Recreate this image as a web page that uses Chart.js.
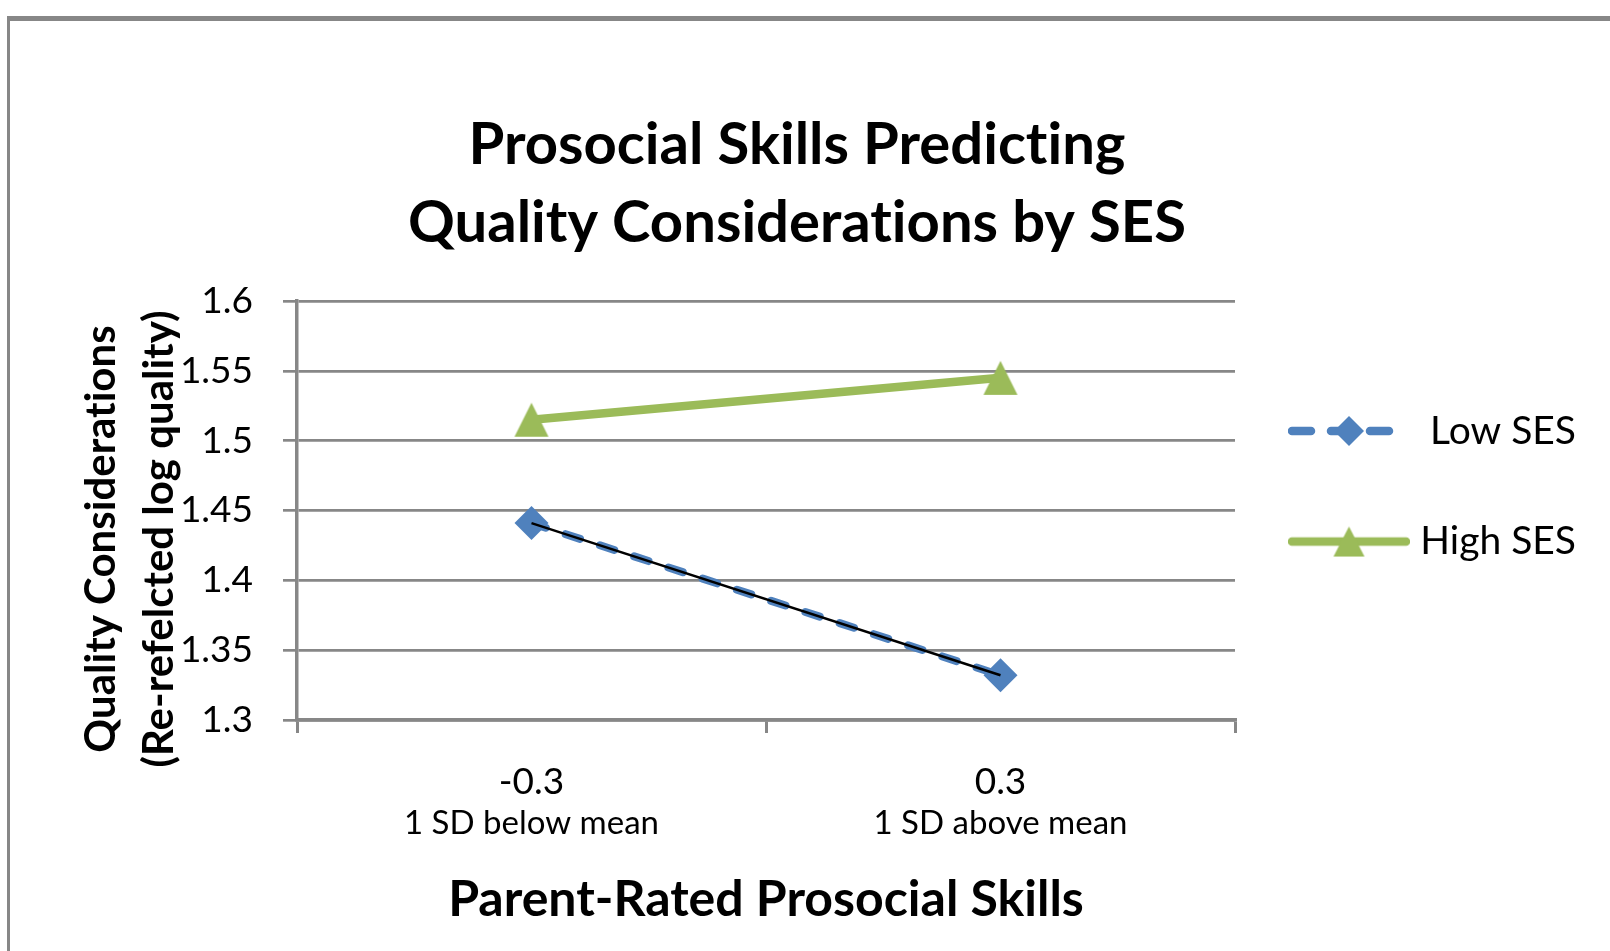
<!DOCTYPE html>
<html>
<head>
<meta charset="utf-8">
<script src="https://cdn.jsdelivr.net/npm/chart.js@4"></script>
<style>
  html, body { margin: 0; padding: 0; background: #fff; overflow: hidden; }
  .frame { position: absolute; left: 7px; top: 16px; width: 1700px; height: 1000px;
           border-top: 5px solid #878787; border-left: 3px solid #878787; }
  #myChart { position: absolute; left: 0; top: 0; }
</style>
</head>
<body>
<div class="frame"></div>
<canvas id="myChart" width="1610" height="951"></canvas>
<script>
// Data
const xValues = ['-0.3', '0.3'];
const xNotes = ['1 SD below mean', '1 SD above mean'];
const lowSes = [1.441, 1.332];
const highSes = [1.515, 1.545];
const yTitleLines = ['Quality Considerations', '(Re-refelcted log quality)'];

// Colours
const blue = '#4F81BD';
const green = '#9BBB59';
const gridColor = '#878787';

Chart.defaults.font.family = 'Lato';
Chart.defaults.color = '#000';

// Triangle marker like Excel (same width and height)
function makeTriangle(w, h, color) {
    const c = document.createElement('canvas');
    c.width = w + 2;
    c.height = h + 2;
    const g = c.getContext('2d');
    g.fillStyle = color;
    g.beginPath();
    g.moveTo(c.width / 2, 1);
    g.lineTo(w + 1, h + 1);
    g.lineTo(1, h + 1);
    g.closePath();
    g.fill();
    return c;
}

// Legend symbol: a short line with the marker in the middle
function makeLegendIcon(color, dash, marker) {
    const c = document.createElement('canvas');
    c.width = 122;
    c.height = 40;
    const g = c.getContext('2d');
    g.strokeStyle = color;
    g.lineWidth = 8.5;
    g.lineCap = 'round';
    g.setLineDash(dash);
    g.beginPath();
    g.moveTo(4, 20);
    g.lineTo(118, 20);
    g.stroke();
    g.setLineDash([]);
    g.fillStyle = color;
    if (marker === 'diamond') {
        g.beginPath();
        g.moveTo(46, 20);
        g.lineTo(61, 5);
        g.lineTo(76, 20);
        g.lineTo(61, 35);
        g.closePath();
        g.fill();
    } else {
        g.drawImage(makeTriangle(31, 30, color), 61 - 16.5, 20 - 16);
    }
    return c;
}

const triangleImg = makeTriangle(34, 34, green);
const legendIcons = {
    1: makeLegendIcon(blue, [19, 20], 'diamond'),
    2: makeLegendIcon(green, [], 'triangle')
};

// No "ti" ligatures (the original font has none)
const noLigatures = {
    id: 'noLigatures',
    beforeDraw(chart) {
        chart.ctx.textRendering = 'optimizeSpeed';
    }
};

// Vertical axis title (two lines, rotated)
const yTitlePlugin = {
    id: 'yTitle',
    afterDraw(chart) {
        const ctx = chart.ctx;
        const xs = [101, 159];
        ctx.save();
        ctx.font = 'bold 42px Lato';
        ctx.fillStyle = '#000';
        ctx.textAlign = 'center';
        ctx.textBaseline = 'middle';
        yTitleLines.forEach((line, i) => {
            ctx.save();
            ctx.translate(xs[i], 539);
            ctx.rotate(-Math.PI / 2);
            ctx.fillText(line, 0, 0);
            ctx.restore();
        });
        ctx.restore();
    }
};

const ctx = document.getElementById('myChart').getContext('2d');

const chart = new Chart(ctx, {
    type: 'line',
    data: {
        labels: xValues,
        datasets: [{
                label: 'Low SES trend',
                data: lowSes,
                borderColor: '#000',
                borderWidth: 2.5,
                pointRadius: 0,
                order: 0
            }, {
                label: 'Low SES',
                data: lowSes,
                borderColor: blue,
                borderWidth: 8,
                borderDash: [15, 21],
                borderCapStyle: 'round',
                pointStyle: 'rectRot',
                pointRadius: 17,
                pointBackgroundColor: blue,
                pointBorderWidth: 0,
                order: 1
            }, {
                label: 'High SES',
                data: highSes,
                borderColor: green,
                borderWidth: 8.5,
                pointStyle: triangleImg,
                pointRadius: 17,
                order: 2
            }]
    },
    options: {
        responsive: false,
        animation: false,
        events: [],
        layout: {
            padding: {top: 56, left: 18, right: 34, bottom: 0}
        },
        plugins: {
            title: {
                display: true,
                text: ['Prosocial Skills Predicting', 'Quality Considerations by SES'],
                color: '#000',
                font: {size: 58, weight: 'bold', lineHeight: 1.345},
                padding: {top: 50, bottom: 39}
            },
            legend: {
                position: 'right',
                fullSize: false,
                maxWidth: 341,
                labels: {
                    usePointStyle: true,
                    pointStyleWidth: 182,
                    padding: 23,
                    textAlign: 'right',
                    color: '#000',
                    font: {size: 39, lineHeight: 2.244},
                    generateLabels(chart) {
                        const items = Chart.defaults.plugins.legend.labels.generateLabels(chart);
                        return items
                            .filter(it => it.datasetIndex !== 0)
                            .map(it => Object.assign(it, {
                                text: [it.text],
                                pointStyle: legendIcons[it.datasetIndex]
                            }));
                    }
                }
            },
            tooltip: {enabled: false}
        },
        scales: {
            x: {
                type: 'category',
                offset: true,
                weight: 0,
                grid: {
                    offset: true,
                    drawOnChartArea: false,
                    tickLength: 13,
                    color: gridColor,
                    lineWidth: 3
                },
                border: {color: gridColor, width: 3.5},
                ticks: {font: {size: 37}, color: '#000', padding: 27, maxRotation: 0, autoSkip: false},
                afterFit(s) { s.height = 76; }
            },
            x2: {
                type: 'category',
                labels: xNotes,
                position: 'bottom',
                offset: true,
                weight: 1,
                grid: {display: false},
                border: {display: false},
                ticks: {font: {size: 33}, color: '#000', padding: 0, maxRotation: 0, autoSkip: false},
                title: {
                    display: true,
                    text: 'Parent-Rated Prosocial Skills',
                    color: '#000',
                    font: {size: 50, weight: 'bold'},
                    padding: {top: 0, bottom: 21}
                },
                afterFit(s) { s.height = 155; }
            },
            y: {
                min: 1.3,
                max: 1.6,
                ticks: {
                    stepSize: 0.05,
                    font: {size: 37},
                    color: '#000',
                    padding: 30,
                    callback: v => String(+v.toFixed(2))
                },
                grid: {color: gridColor, lineWidth: 2.7, tickLength: 14},
                border: {color: gridColor, width: 3.5},
                afterFit(s) { s.width = 279; }
            }
        }
    },
    plugins: [noLigatures, yTitlePlugin]
});
</script>
</body>
</html>
